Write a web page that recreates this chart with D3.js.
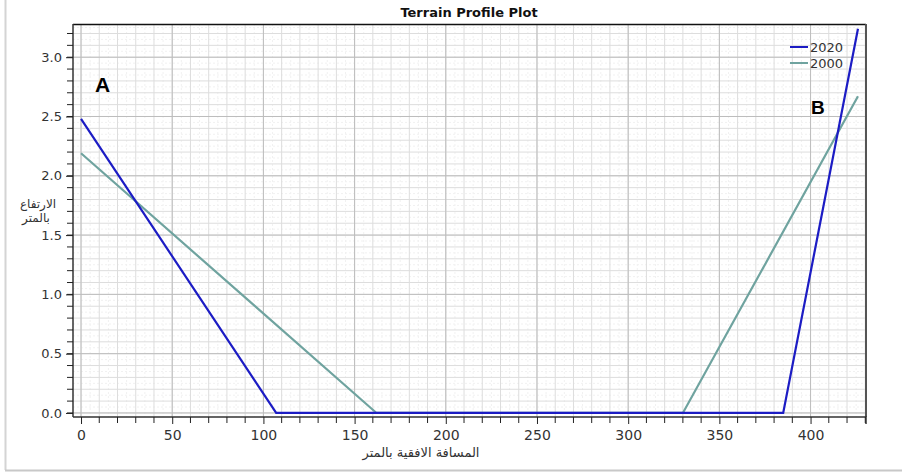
<!DOCTYPE html>
<html>
<head>
<meta charset="utf-8">
<script src="https://cdn.jsdelivr.net/npm/d3@7"></script>
<style>
  body { margin: 0; background: #fff; }
  text { font-family: "DejaVu Sans", Verdana, sans-serif; }
</style>
</head>
<body>
<div id="chart"></div>
<script>
// profile data
var dist2020 = [0, 107, 385, 426],
    elev2020 = [2.48, 0, 0, 3.24],
    dist2000 = [0, 162, 330, 426],
    elev2000 = [2.19, 0, 0, 2.67];
var xTicks = [0, 50, 100, 150, 200, 250, 300, 350, 400],
    yTicks = [0.0, 0.5, 1.0, 1.5, 2.0, 2.5, 3.0];
var seriesNames = ["2020", "2000"];

var width = 902, height = 474;
var margin = {left: 73, top: 24, right: 36, bottom: 57};
var plotW = width - margin.left - margin.right,
    plotH = height - margin.top - margin.bottom;

var svg = d3.select("#chart").append("svg")
    .attr("width", width)
    .attr("height", height);

// outer frame (screenshot border)
svg.append("line").attr("x1", 5.5).attr("x2", 5.5).attr("y1", 0).attr("y2", 470)
    .attr("stroke", "#d4d4d4").attr("stroke-width", 2);
svg.append("line").attr("x1", 5).attr("x2", width).attr("y1", 470.5).attr("y2", 470.5)
    .attr("stroke", "#c8c8c8").attr("stroke-width", 2);

var x = d3.scaleLinear().domain([-4.4, 430.4]).range([0, plotW]);
var y = d3.scaleLinear().domain([-0.034, 3.28]).range([plotH, 0]);

var g = svg.append("g").attr("transform", "translate(" + margin.left + "," + margin.top + ")");

// grid: faint halves, then every 10 / 0.1, then majors
var fineX = d3.range(5, 430, 10), fineY = d3.range(0.05, 3.28, 0.1);
var minX = d3.range(0, 431, 10), minY = d3.range(0, 3.28, 0.1);

g.selectAll(".fx").data(fineX).enter().append("line")
    .attr("x1", d => x(d)).attr("x2", d => x(d)).attr("y1", 0).attr("y2", plotH)
    .attr("stroke", "#f1f1f1").attr("stroke-dasharray", "2,2");
g.selectAll(".fy").data(fineY).enter().append("line")
    .attr("y1", d => y(d)).attr("y2", d => y(d)).attr("x1", 0).attr("x2", plotW)
    .attr("stroke", "#f1f1f1").attr("stroke-dasharray", "2,2");
g.selectAll(".mx").data(minX).enter().append("line")
    .attr("x1", d => x(d)).attr("x2", d => x(d)).attr("y1", 0).attr("y2", plotH)
    .attr("stroke", "#dddddd");
g.selectAll(".my").data(minY).enter().append("line")
    .attr("y1", d => y(d)).attr("y2", d => y(d)).attr("x1", 0).attr("x2", plotW)
    .attr("stroke", "#dddddd");
g.selectAll(".gx").data(xTicks).enter().append("line")
    .attr("x1", d => x(d)).attr("x2", d => x(d)).attr("y1", 0).attr("y2", plotH)
    .attr("stroke", "#bdbdbd");
g.selectAll(".gy").data(yTicks).enter().append("line")
    .attr("y1", d => y(d)).attr("y2", d => y(d)).attr("x1", 0).attr("x2", plotW)
    .attr("stroke", "#bdbdbd");

// frame of plot area
g.append("line").attr("x1", 0).attr("x2", plotW).attr("y1", 0.5).attr("y2", 0.5)
    .attr("stroke", "#111").attr("stroke-width", 1.5);
g.append("line").attr("x1", plotW).attr("x2", plotW).attr("y1", 0).attr("y2", plotH)
    .attr("stroke", "#555").attr("stroke-width", 2);

// axes
var xAxis = g.append("g").attr("transform", "translate(0," + plotH + ")")
    .call(d3.axisBottom(x).tickValues(xTicks).tickSize(7).tickPadding(6).tickFormat(d3.format("d")));
xAxis.append("g").selectAll("line").data(minX.filter(d => d % 50 !== 0)).enter().append("line")
    .attr("x1", d => x(d)).attr("x2", d => x(d)).attr("y1", 0).attr("y2", 6)
    .attr("stroke", "#222");
var yAxis = g.append("g")
    .call(d3.axisLeft(y).tickValues(yTicks).tickSize(7).tickPadding(4).tickFormat(d3.format(".1f")));
yAxis.append("g").selectAll("line").data(minY).enter().append("line")
    .attr("y1", d => y(d)).attr("y2", d => y(d)).attr("x1", 0).attr("x2", -6)
    .attr("stroke", "#222");
xAxis.select(".domain").attr("stroke", "#333").attr("stroke-width", 1.5)
    .attr("d", "M0,0H" + plotW + "V7");
yAxis.select(".domain").attr("stroke", "#333").attr("stroke-width", 1.5)
    .attr("d", "M0,0V" + plotH);
[xAxis, yAxis].forEach(function(a) {
  a.selectAll(".tick line").attr("stroke", "#222");
  a.selectAll(".tick text").attr("fill", "#333").style("font-size", "13px");
});
xAxis.selectAll(".tick text").style("font-size", "14px");

// lines
var line = d3.line().x(d => x(d[0])).y(d => y(d[1]));
var colors = ["#1c1cc4", "#6fa39f"];
var data2020 = d3.zip(dist2020, elev2020), data2000 = d3.zip(dist2000, elev2000);
g.append("path").datum(data2000).attr("d", line)
    .attr("fill", "none").attr("stroke", colors[1]).attr("stroke-width", 2.2);
g.append("path").datum(data2020).attr("d", line)
    .attr("fill", "none").attr("stroke", colors[0]).attr("stroke-width", 2.2);

// legend
var legend = svg.append("g").attr("transform", "translate(790,47)");
seriesNames.forEach(function(n, i) {
  legend.append("line").attr("x1", 0).attr("x2", 18).attr("y1", i * 16).attr("y2", i * 16)
      .attr("stroke", colors[i]).attr("stroke-width", 2);
  legend.append("text").attr("x", 20).attr("y", i * 16 + 5).text(n)
      .attr("fill", "#333").style("font-size", "13px");
});

// point labels
svg.append("text").attr("x", 95).attr("y", 92).text("A")
    .style("font-family", "Liberation Sans, Arial, sans-serif").style("font-weight", "bold").style("font-size", "21px");
svg.append("text").attr("x", 811).attr("y", 114).text("B")
    .style("font-family", "Liberation Sans, Arial, sans-serif").style("font-weight", "bold").style("font-size", "19px");

// title
svg.append("text").attr("x", 469).attr("y", 17).attr("text-anchor", "middle")
    .text("Terrain Profile Plot")
    .style("font-weight", "bold").style("font-size", "13px").attr("fill", "#111");

// axis titles
svg.append("text").attr("x", 38).attr("y", 208).attr("text-anchor", "middle")
    .text("الارتفاع").style("font-size", "12px").attr("fill", "#333");
svg.append("text").attr("x", 36).attr("y", 222).attr("text-anchor", "middle")
    .text("بالمتر").style("font-size", "12px").attr("fill", "#333");
svg.append("text").attr("x", 421).attr("y", 457).attr("text-anchor", "middle")
    .text("المسافة الافقية بالمتر").style("font-size", "13px").attr("fill", "#333");
</script>
</body>
</html>
